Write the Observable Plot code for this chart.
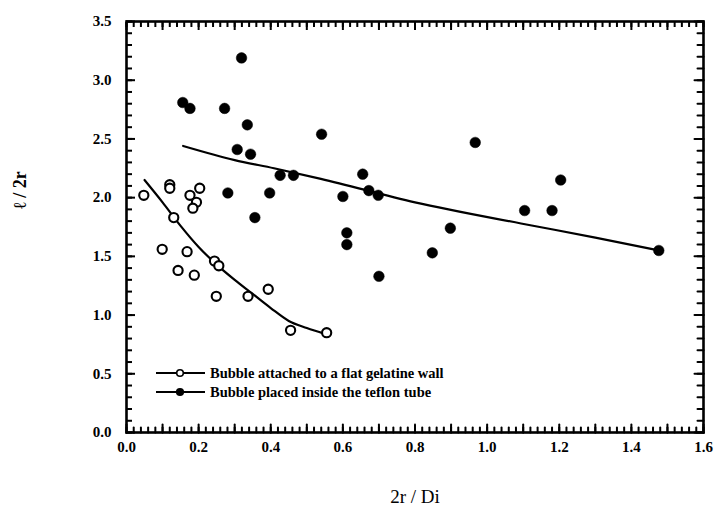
<!DOCTYPE html>
<html>
<head>
<meta charset="utf-8">
<script src="https://cdn.jsdelivr.net/npm/d3@7"></script>
<script src="https://cdn.jsdelivr.net/npm/@observablehq/plot@0.6"></script>
<style>
  html, body { margin: 0; padding: 0; background: #fff; }
  #chart { position: relative; width: 721px; height: 525px; }
</style>
</head>
<body>
<div id="chart"></div>
<script>
// ---- data ----
const openX = [0.048, 0.12, 0.12, 0.176, 0.203, 0.194, 0.184, 0.131, 0.099, 0.168, 0.143, 0.188, 0.244, 0.256, 0.249, 0.337, 0.393, 0.455, 0.555];
const openY = [2.02, 2.11, 2.08, 2.02, 2.08, 1.96, 1.91, 1.83, 1.56, 1.54, 1.38, 1.34, 1.46, 1.42, 1.16, 1.16, 1.22, 0.87, 0.85];

const filledX = [0.156, 0.176, 0.272, 0.319, 0.335, 0.307, 0.344, 0.281, 0.356, 0.397, 0.426, 0.463, 0.541, 0.600, 0.611, 0.611, 0.655, 0.672, 0.698, 0.700, 0.848, 0.898, 0.967, 1.104, 1.180, 1.204, 1.476];
const filledY = [2.81, 2.76, 2.76, 3.19, 2.62, 2.41, 2.37, 2.04, 1.83, 2.04, 2.19, 2.19, 2.54, 2.01, 1.70, 1.60, 2.20, 2.06, 2.02, 1.33, 1.53, 1.74, 2.47, 1.89, 1.89, 2.15, 1.55];

const openFitX = [0.05, 0.10, 0.15, 0.20, 0.25, 0.30, 0.35, 0.40, 0.45, 0.50, 0.55];
const openFitY = [2.15, 1.96, 1.76, 1.58, 1.43, 1.30, 1.18, 1.06, 0.95, 0.89, 0.84];

const filledFitX = [0.157, 0.30, 0.409, 0.539, 0.80, 1.094, 1.30, 1.476];
const filledFitY = [2.44, 2.32, 2.25, 2.16, 1.96, 1.78, 1.66, 1.55];

const xTickLabels = [0, 0.2, 0.4, 0.6, 0.8, 1.0, 1.2, 1.4, 1.6];
const yTickLabels = [0, 0.5, 1.0, 1.5, 2.0, 2.5, 3.0, 3.5];
const xMinorTicks = d3.range(0, 1.6001, 0.02);
const xMidTicks = d3.range(0, 1.6001, 0.1);
const yMinorTicks = d3.range(0, 3.5001, 0.1);
const yMajorTicks = d3.range(0, 3.5001, 0.5);

const legendLabels = ["Bubble attached to a flat gelatine wall", "Bubble placed inside the teflon tube"];
const xLabel = "2r / Di";
const yLabel = "\u2113 / 2r";

// ---- build tables ----
const openPts = openX.map((x, i) => ({x, y: openY[i]}));
const filledPts = filledX.map((x, i) => ({x, y: filledY[i]}));
const openFit = openFitX.map((x, i) => ({x, y: openFitY[i]}));
const filledFit = filledFitX.map((x, i) => ({x, y: filledFitY[i]}));

const W = 721, H = 525;
const mL = 126, mR = 18, mT = 21, mB = 93;
const innerW = W - mL - mR, innerH = H - mT - mB;
const fmt = d3.format(".1f");

const tickStyle = {stroke: "#000", strokeWidth: 2, tickFormat: () => "", label: null};
const tickShape = {draw(context, l) { context.moveTo(0, 0); context.lineTo(0, -l); }};
const vecStyle = {anchor: "start", shape: tickShape, stroke: "#000", strokeWidth: 2};

function bottomRightTicks(useVectors) {
  if (useVectors) {
    return [
      Plot.vector(xMinorTicks, {x: d => d, frameAnchor: "bottom", length: 5, ...vecStyle}),
      Plot.vector(xMidTicks, {x: d => d, frameAnchor: "bottom", length: 8, ...vecStyle}),
      Plot.vector(yMinorTicks, {y: d => d, frameAnchor: "right", length: 6, rotate: -90, ...vecStyle}),
      Plot.vector(yMajorTicks, {y: d => d, frameAnchor: "right", length: 9, rotate: -90, ...vecStyle})
    ];
  }
  return [
    Plot.axisX({anchor: "top", ticks: xMinorTicks, tickSize: 5, dy: innerH, ...tickStyle}),
    Plot.axisX({anchor: "top", ticks: xMidTicks, tickSize: 8, dy: innerH, ...tickStyle}),
    Plot.axisY({anchor: "left", ticks: yMinorTicks, tickSize: 6, dx: innerW, ...tickStyle}),
    Plot.axisY({anchor: "left", ticks: yMajorTicks, tickSize: 9, dx: innerW, ...tickStyle})
  ];
}

function build(useVectors) {
  return Plot.plot({
    width: W, height: H,
    marginLeft: mL, marginRight: mR, marginTop: mT, marginBottom: mB,
    style: {fontFamily: "'Liberation Serif', serif", fontWeight: "bold", fontSize: "15px", color: "#000", background: "#fff"},
    x: {domain: [0, 1.6]},
    y: {domain: [0, 3.5]},
    marks: [
      Plot.frame({stroke: "#000", strokeWidth: 2.6}),
      // inward ticks: top and left edges
      Plot.axisX({anchor: "top", ticks: xMinorTicks, tickSize: 5, dy: 5, ...tickStyle}),
      Plot.axisX({anchor: "top", ticks: xMidTicks, tickSize: 8, dy: 8, ...tickStyle}),
      Plot.axisY({anchor: "left", ticks: yMinorTicks, tickSize: 6, dx: 6, ...tickStyle}),
      Plot.axisY({anchor: "left", ticks: yMajorTicks, tickSize: 9, dx: 9, ...tickStyle}),
      // inward ticks: bottom and right edges
      ...bottomRightTicks(useVectors),
      Plot.axisX({ticks: xTickLabels, tickSize: 0, tickPadding: 9, tickFormat: fmt, label: null}),
      Plot.axisY({ticks: yTickLabels, tickSize: 0, tickPadding: 15, tickFormat: fmt, label: null}),
      // fitted curves
      Plot.line(openFit, {x: "x", y: "y", curve: "monotone-x", stroke: "#000", strokeWidth: 2.2}),
      Plot.line(filledFit, {x: "x", y: "y", curve: "monotone-x", stroke: "#000", strokeWidth: 2.2}),
      // data
      Plot.dot(openPts, {x: "x", y: "y", r: 4.6, fill: "#fff", stroke: "#000", strokeWidth: 2.1}),
      Plot.dot(filledPts, {x: "x", y: "y", r: 5.3, fill: "#000", stroke: "#000", strokeWidth: 0.5}),
      // axis titles
      Plot.text([xLabel], {frameAnchor: "bottom", dy: 64, text: d => d, fontSize: 19, fontWeight: "normal", lineAnchor: "middle"}),
      Plot.text([yLabel], {frameAnchor: "left", dx: -106, dy: -18, rotate: -90, text: d => d, fontSize: 18, fontWeight: "bold", lineAnchor: "middle"})
    ]
  });
}

let chart;
try { chart = build(true); } catch (e) { chart = build(false); }
document.getElementById("chart").appendChild(chart);

// legend drawn inside the plot area (lower left)
const svgSel = d3.select(chart);
const lg = svgSel.append("g").attr("font-family", "'Liberation Serif', serif").attr("font-weight", "bold").attr("font-size", "14.5px").attr("text-anchor", "start");
const rows = [
  {label: legendLabels[0], fill: "#fff", y: 373},
  {label: legendLabels[1], fill: "#000", y: 392}
];
rows.forEach(r => {
  lg.append("line").attr("x1", 156).attr("x2", 205).attr("y1", r.y).attr("y2", r.y).attr("stroke", "#000").attr("stroke-width", 2);
  lg.append("circle").attr("cx", 180).attr("cy", r.y).attr("r", 3.3).attr("fill", r.fill).attr("stroke", "#000").attr("stroke-width", 1.6);
  lg.append("text").attr("x", 210).attr("y", r.y).attr("dy", "0.35em").attr("text-anchor", "start").text(r.label);
});
</script>
</body>
</html>
